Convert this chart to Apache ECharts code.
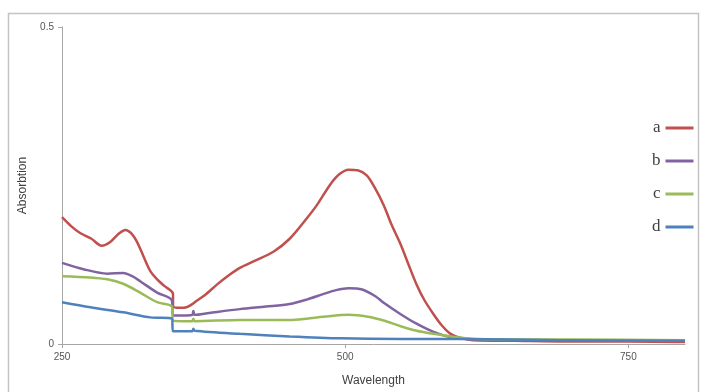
<!DOCTYPE html>
<html>
<head>
<meta charset="utf-8">
<script src="https://cdn.jsdelivr.net/npm/echarts@6/dist/echarts.min.js"></script>
<style>
html,body{margin:0;padding:0;background:#fff;}
#chart{width:705px;height:392px;}
</style>
</head>
<body>
<div id="chart"></div>
<script>
// Series names
const seriesNames = ['a', 'b', 'c', 'd'];

// Wavelength (nm) and absorption readings for each curve
const wavelengthA = [250,258,266,276,285,292,300,306,311,316,322,328,334,340,348,348,354,360,366,368,376,387,397,407,420,437,451,466,475,487,495,503,511,519,526,534,541,549,556,563,570,578,585,593,603,613,650,700,750,800];
const absorptionA = [0.200,0.186,0.175,0.166,0.155,0.160,0.174,0.180,0.175,0.162,0.138,0.115,0.102,0.092,0.079,0.060,0.057,0.058,0.064,0.067,0.077,0.094,0.108,0.120,0.131,0.146,0.166,0.198,0.219,0.252,0.268,0.275,0.274,0.266,0.247,0.219,0.188,0.157,0.125,0.094,0.069,0.047,0.030,0.016,0.009,0.006,0.005,0.004,0.004,0.003];

const wavelengthB = [250,269,290,304,312,319,334,347,348,360,365,366,367,380,407,430,451,466,481,492,503,515,527,534,549,563,578,593,620,700,800];
const absorptionB = [0.128,0.118,0.111,0.112,0.107,0.099,0.081,0.069,0.045,0.045,0.046,0.052,0.046,0.049,0.055,0.059,0.063,0.070,0.079,0.085,0.088,0.086,0.075,0.065,0.047,0.032,0.019,0.011,0.007,0.006,0.006];

const wavelengthC = [250,275,290,304,319,334,347,348,365,366,367,407,451,466,481,503,520,534,549,563,578,593,615,700,800];
const absorptionC = [0.107,0.105,0.102,0.095,0.081,0.066,0.059,0.037,0.036,0.040,0.036,0.038,0.038,0.040,0.043,0.046,0.043,0.037,0.028,0.021,0.016,0.012,0.008,0.007,0.006];

const wavelengthD = [250,275,304,328,347,348,360,365,366,367,407,451,496,550,600,700,800];
const absorptionD = [0.066,0.058,0.050,0.042,0.040,0.020,0.020,0.020,0.024,0.021,0.016,0.012,0.009,0.008,0.008,0.006,0.005];

// Axis tick labels
const xTicks = [250, 500, 750];
const yTicks = [0, 0.5];

const colors = ['#c0504d', '#8064a2', '#9bbb59', '#4f81bd'];

function pairs(xs, ys) { return xs.map((x, i) => [x, ys[i]]); }
const allX = [wavelengthA, wavelengthB, wavelengthC, wavelengthD];
const allY = [absorptionA, absorptionB, absorptionC, absorptionD];

const chart = echarts.init(document.getElementById('chart'));
chart.setOption({
  animation: false,
  backgroundColor: '#ffffff',
  graphic: [{
    type: 'rect',
    shape: { x: 8.5, y: 13.5, width: 690, height: 400 },
    style: { fill: 'none', stroke: '#c4c4c4', lineWidth: 1.5 },
    silent: true
  }],
  grid: { left: 62, right: 20, top: 27, bottom: 45 },
  legend: {
    orient: 'vertical',
    left: 647,
    top: 114,
    align: 'right',
    icon: 'rect',
    itemWidth: 28,
    itemHeight: 3,
    itemGap: 15,
    data: seriesNames,
    textStyle: { fontFamily: 'Liberation Serif', fontSize: 17, color: '#404040', lineHeight: 18 }
  },
  xAxis: {
    type: 'value',
    min: 250, max: 800, interval: 250,
    name: 'Wavelength',
    nameLocation: 'middle',
    nameGap: 31,
    nameTextStyle: { fontFamily: 'Liberation Sans', fontSize: 12, color: '#404040' },
    axisLine: { show: true, lineStyle: { color: '#a6a6a6', width: 1 } },
    axisTick: { show: true, length: 4, lineStyle: { color: '#a6a6a6' }, customValues: xTicks },
    axisLabel: { fontFamily: 'Liberation Sans', fontSize: 10, color: '#555', margin: 8, customValues: xTicks },
    splitLine: { show: false }
  },
  yAxis: {
    type: 'value',
    min: 0, max: 0.5, interval: 0.5,
    name: 'Absorbtion',
    nameLocation: 'middle',
    nameGap: 33,
    nameTextStyle: { fontFamily: 'Liberation Sans', fontSize: 12, color: '#404040' },
    axisLine: { show: true, lineStyle: { color: '#a6a6a6', width: 1 } },
    axisTick: { show: true, length: 4, lineStyle: { color: '#a6a6a6' }, customValues: yTicks },
    axisLabel: { fontFamily: 'Liberation Sans', fontSize: 10, color: '#555', margin: 8, customValues: yTicks },
    splitLine: { show: false }
  },
  series: seriesNames.map((n, i) => ({
    name: n,
    type: 'line',
    symbol: 'none',
    smooth: 0.3,
    color: colors[i],
    lineStyle: { width: 2.5, color: colors[i] },
    data: pairs(allX[i], allY[i])
  }))
});
</script>
</body>
</html>
